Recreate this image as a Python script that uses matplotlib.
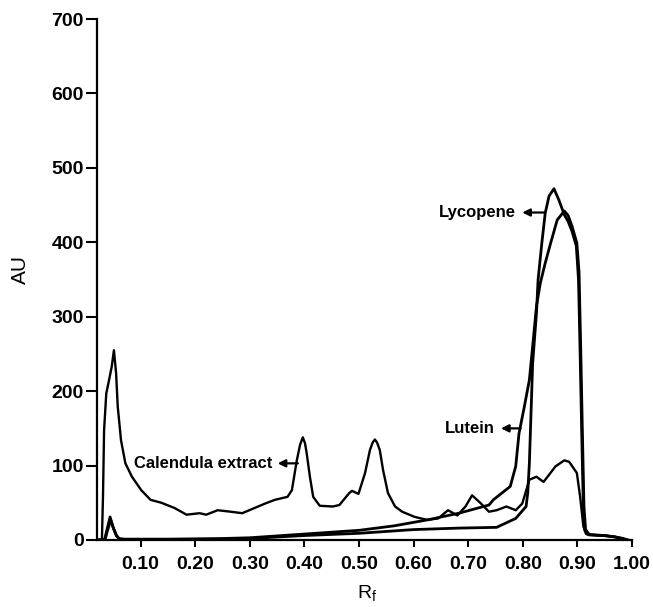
import matplotlib
matplotlib.use('Agg')
import matplotlib.pyplot as plt

# Calendula extract track
rf_cal = [0.024, 0.029, 0.031, 0.033, 0.037, 0.041, 0.047, 0.051, 0.055, 0.058,
          0.064, 0.072, 0.084, 0.101, 0.118, 0.138, 0.162, 0.184, 0.208, 0.220,
          0.241, 0.265, 0.286, 0.328, 0.346, 0.369, 0.377, 0.386, 0.392, 0.397,
          0.401, 0.404, 0.410, 0.416, 0.428, 0.452, 0.464, 0.482, 0.487, 0.499,
          0.511, 0.520, 0.525, 0.529, 0.533, 0.538, 0.544, 0.553, 0.566, 0.579,
          0.602, 0.625, 0.645, 0.663, 0.680, 0.695, 0.707, 0.722, 0.738, 0.752,
          0.770, 0.787, 0.799, 0.812, 0.825, 0.838, 0.860, 0.876, 0.885, 0.899,
          0.905, 0.911, 0.916, 0.940, 0.960, 0.980, 0.995]
au_cal = [0, 0, 60, 148, 197, 211, 233, 255, 224, 179,
          134, 103, 85, 67, 54, 50, 43, 34, 36, 34,
          40, 38, 36, 49, 54, 58, 67, 107, 128, 138,
          130, 117, 85, 58, 46, 45, 47, 63, 66, 62,
          90, 121, 131, 135, 131, 121, 94, 63, 45, 38,
          31, 27, 29, 40, 33, 45, 60, 50, 38, 40,
          45, 40, 49, 81, 85, 78, 99, 107, 105, 90,
          58, 18, 8, 6, 5, 3, 0]

# Lycopene standard
rf_lyc = [0.024, 0.034, 0.038, 0.044, 0.049, 0.055, 0.060, 0.070, 0.150, 0.250,
          0.300, 0.400, 0.500, 0.560, 0.600, 0.683, 0.752, 0.787, 0.806, 0.809,
          0.812, 0.815, 0.818, 0.825, 0.828, 0.835, 0.841, 0.848, 0.857, 0.866,
          0.876, 0.883, 0.890, 0.898, 0.902, 0.905, 0.908, 0.911, 0.914, 0.920,
          0.950, 0.970, 0.990]
au_lyc = [0, 1, 13, 31, 18, 7, 2, 1, 1, 1,
          2, 6, 9, 12, 14, 16, 17, 29, 45, 63,
          103, 170, 237, 305, 350, 400, 439, 462, 472, 457,
          437, 428, 415, 395, 350, 250, 140, 40, 12, 7,
          6, 4, 0]

# Lutein standard
rf_lut = [0.024, 0.035, 0.039, 0.045, 0.050, 0.056, 0.062, 0.150, 0.250, 0.300,
          0.400, 0.500, 0.564, 0.625, 0.683, 0.738, 0.746, 0.777, 0.787, 0.793,
          0.803, 0.812, 0.818, 0.825, 0.832, 0.841, 0.851, 0.863, 0.876, 0.883,
          0.890, 0.899, 0.903, 0.906, 0.909, 0.912, 0.915, 0.922, 0.950, 0.970,
          0.990]
au_lut = [0, 1, 12, 27, 16, 5, 1, 1, 2, 3,
          8, 13, 19, 27, 36, 47, 54, 72, 99, 143,
          180, 215, 260, 314, 345, 372, 399, 430, 442, 436,
          422, 399, 360, 260, 150, 45, 14, 7, 6, 4,
          0]

x_ticks = [0.10, 0.20, 0.30, 0.40, 0.50, 0.60, 0.70, 0.80, 0.90, 1.00]
y_ticks = [0, 100, 200, 300, 400, 500, 600, 700]

plt.rcParams['font.family'] = ['Liberation Sans', 'DejaVu Sans']

fig = plt.figure(figsize=(6.53, 6.07), dpi=100)
ax = fig.add_axes([97/653, 67/607, 535/653, 521/607])

ax.plot(rf_cal, au_cal, '-', c='black', lw=1.7, zorder=3)
ax.plot(rf_lyc, au_lyc, '-', c='black', lw=2.0, zorder=3)
ax.plot(rf_lut, au_lut, '-', c='black', lw=2.0, zorder=3)

ax.set_xlim(0.02, 1.0)
ax.set_ylim(0, 700)
ax.set_xticks(x_ticks)
ax.set_xticklabels(['%.2f' % v for v in x_ticks])
ax.set_yticks(y_ticks)
ax.set_yticklabels([str(v) for v in y_ticks])

for s in ['top', 'right']:
    ax.spines[s].set_visible(False)
for s in ['left', 'bottom']:
    ax.spines[s].set_linewidth(1.6)

ax.tick_params(axis='y', length=8, width=1.5, pad=1.5, labelsize=14)
ax.tick_params(axis='x', length=5, width=1.5, pad=6.5, labelsize=14)
for lb in ax.get_xticklabels() + ax.get_yticklabels():
    lb.set_fontweight('bold')

ax.set_ylabel('AU', fontsize=15)
ax.yaxis.set_label_coords(-0.125, 0.52)
ax.set_xlabel(r'R$_\mathregular{f}$', fontsize=14)
ax.xaxis.set_label_coords(0.505, -0.083)

# etiquetas com setas
seta = dict(arrowstyle='-|>', lw=1.6, color='black', mutation_scale=11, shrinkA=0, shrinkB=0)
ax.text(0.787, 440, 'Lycopene', ha='right', va='center', fontsize=12, fontweight='bold')
ax.annotate('', xy=(0.799, 440), xytext=(0.840, 440), arrowprops=seta)
ax.text(0.749, 150, 'Lutein', ha='right', va='center', fontsize=12, fontweight='bold')
ax.annotate('', xy=(0.760, 150), xytext=(0.796, 150), arrowprops=seta)
ax.text(0.342, 103, 'Calendula extract', ha='right', va='center', fontsize=12, fontweight='bold')
ax.annotate('', xy=(0.351, 103), xytext=(0.388, 103), arrowprops=seta)

fig.savefig('out.png', dpi=100)
